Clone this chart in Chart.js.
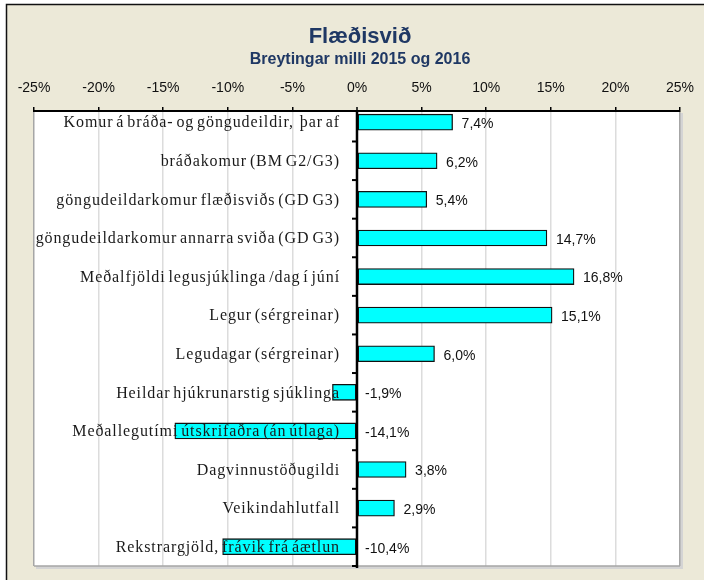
<!DOCTYPE html>
<html>
<head>
<meta charset="utf-8">
<script src="https://cdn.jsdelivr.net/npm/chart.js@4/dist/chart.umd.min.js"></script>
<style>
html,body{margin:0;padding:0;background:#fff;}
#wrap{width:704px;height:580px;position:relative;}
</style>
</head>
<body>
<div id="wrap"><canvas id="c" width="704" height="580"></canvas></div>
<script>
const titleText = "Flæðisvið";
const subtitleText = "Breytingar milli 2015 og 2016";
const categories = [
  "Komur á bráða- og göngudeildir,  þar af",
  "bráðakomur (BM G2/G3)",
  "göngudeildarkomur flæðisviðs (GD G3)",
  "göngudeildarkomur annarra sviða (GD G3)",
  "Meðalfjöldi legusjúklinga /dag í júní",
  "Legur (sérgreinar)",
  "Legudagar (sérgreinar)",
  "Heildar hjúkrunarstig sjúklinga",
  "Meðallegutími útskrifaðra (án útlaga)",
  "Dagvinnustöðugildi",
  "Veikindahlutfall",
  "Rekstrargjöld, frávik frá áætlun"
];
const changePct = [7.4, 6.2, 5.4, 14.7, 16.8, 15.1, 6.0, -1.9, -14.1, 3.8, 2.9, -10.4];
const xMin = -25, xMax = 25, xStep = 5;

const fmt = v => v.toFixed(1).replace('.', ',') + '%';

const frame = {
  id: 'frame',
  beforeDraw(chart) {
    const ctx = chart.ctx, a = chart.chartArea;
    ctx.save();
    ctx.fillStyle = '#ffffff';
    ctx.fillRect(0, 0, chart.width, chart.height);
    ctx.fillStyle = '#ECE9D8';
    ctx.fillRect(7, 5, chart.width - 7, chart.height - 5);
    ctx.strokeStyle = '#111';
    ctx.lineWidth = 1.5;
    ctx.beginPath();
    ctx.moveTo(6.5, chart.height);
    ctx.lineTo(6.5, 4.5);
    ctx.lineTo(chart.width, 4.5);
    ctx.stroke();
    ctx.fillStyle = '#d4d4d4';
    ctx.fillRect(a.left + 2, a.top + 2, a.width + 1, a.height + 1);
    ctx.fillStyle = '#ffffff';
    ctx.fillRect(a.left, a.top, a.width, a.height);
    ctx.restore();
  },
  afterDatasetsDraw(chart) {
    const ctx = chart.ctx, a = chart.chartArea;
    const xs = chart.scales.x, ys = chart.scales.y;
    const x0 = xs.getPixelForValue(0);
    ctx.save();
    ctx.strokeStyle = '#a6a6a6';
    ctx.lineWidth = 1.5;
    ctx.beginPath();
    ctx.moveTo(a.left, a.bottom);
    ctx.lineTo(a.right, a.bottom);
    ctx.stroke();
    ctx.strokeStyle = '#000';
    ctx.lineWidth = 2.5;
    ctx.beginPath();
    ctx.moveTo(x0, a.top);
    ctx.lineTo(x0, a.bottom + 2);
    ctx.stroke();
    ctx.lineWidth = 2;
    for (let i = 0; i < categories.length; i++) {
      const y = ys.getPixelForValue(i + 0.5);
      ctx.beginPath();
      ctx.moveTo(x0 - 5, y);
      ctx.lineTo(x0, y);
      ctx.stroke();
    }
    ctx.fillStyle = '#1a1a1a';
    ctx.font = '16px "Liberation Serif", "Times New Roman", serif';
    ctx.letterSpacing = '0.9px';
    ctx.wordSpacing = '-2px';
    ctx.textAlign = 'right';
    ctx.textBaseline = 'middle';
    categories.forEach((c, i) => {
      ctx.fillText(c, x0 - 17, ys.getPixelForValue(i) + 1);
    });
    ctx.letterSpacing = '0px';
    ctx.wordSpacing = '0px';
    ctx.fillStyle = '#111';
    ctx.font = '14px "Liberation Sans", Arial, sans-serif';
    ctx.textAlign = 'left';
    changePct.forEach((v, i) => {
      const xp = v >= 0 ? xs.getPixelForValue(v) + 9 : x0 + 8;
      ctx.fillText(fmt(v), xp, ys.getPixelForValue(i) + 2);
    });
    ctx.restore();
  }
};

new Chart(document.getElementById('c'), {
  type: 'bar',
  data: {
    datasets: [{
      data: changePct.map((v, i) => ({ x: v, y: i })),
      backgroundColor: '#00FFFF',
      borderColor: '#111',
      borderWidth: 1.3,
      borderSkipped: false,
      barThickness: 16
    }]
  },
  options: {
    responsive: false,
    animation: false,
    indexAxis: 'y',
    layout: { padding: { left: 34, right: 18, top: 24, bottom: 14 } },
    plugins: {
      legend: { display: false },
      tooltip: { enabled: false },
      title: {
        display: true, text: titleText, color: '#1F3864',
        font: { family: '"Liberation Sans", Arial, sans-serif', size: 22, weight: 'bold' },
        padding: { top: 0, bottom: 0 }
      },
      subtitle: {
        display: true, text: subtitleText, color: '#1F3864',
        font: { family: '"Liberation Sans", Arial, sans-serif', size: 16, weight: 'bold' },
        padding: { top: 0, bottom: 0 }
      }
    },
    scales: {
      x: {
        type: 'linear',
        position: 'top',
        min: xMin, max: xMax,
        ticks: {
          stepSize: xStep,
          color: '#111',
          padding: 10,
          font: { family: '"Liberation Sans", Arial, sans-serif', size: 14 },
          callback: v => v + '%'
        },
        grid: {
          color: ctx => {
            const v = ctx.tick ? ctx.tick.value : null;
            if (v === 0) return '#000';
            if (v === xMin || v === xMax) return '#a6a6a6';
            return '#dcdcdc';
          },
          lineWidth: ctx => (ctx.tick && ctx.tick.value === 0) ? 2 : 1.5,
          tickColor: '#000',
          tickLength: 4,
          tickWidth: 1.5
        },
        border: { display: true, color: '#000', width: 2 },
        afterFit: s => { s.height = 41.4; }
      },
      y: {
        type: 'linear',
        reverse: true,
        offset: false,
        min: -0.29, max: 11.5,
        display: false
      }
    }
  },
  plugins: [frame]
});
</script>
</body>
</html>
